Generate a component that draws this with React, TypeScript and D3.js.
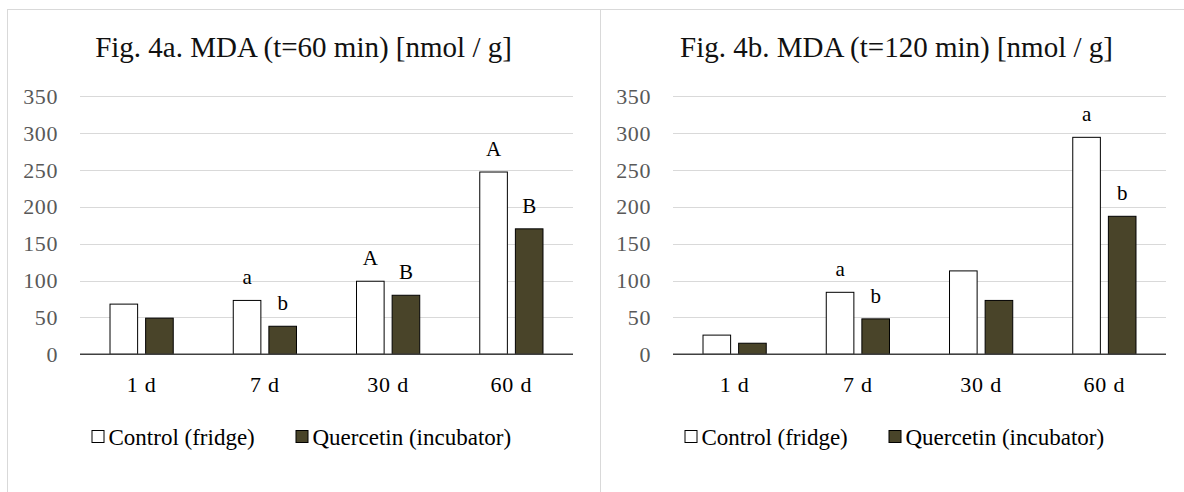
import * as d3 from "d3";

const categories = ["1 d", "7 d", "30 d", "60 d"];
const seriesNames = ["Control (fridge)", "Quercetin (incubator)"];
const yTicks = [0, 50, 100, 150, 200, 250, 300, 350];

const titleA = "Fig. 4a. MDA (t=60 min) [nmol / g]";
const controlA = [68, 73, 99, 247];
const quercetinA = [49, 38, 80, 170];
const lettersControlA = ["", "a", "A", "A"];
const lettersQuercetinA = ["", "b", "B", "B"];

const titleB = "Fig. 4b. MDA (t=120 min) [nmol / g]";
const controlB = [26, 84, 113, 294];
const quercetinB = [15, 48, 73, 187];
const lettersControlB = ["", "a", "", "a"];
const lettersQuercetinB = ["", "b", "", "b"];

const FONT = "'Liberation Serif', 'Times New Roman', serif";
const fills = ["#ffffff", "#494429"];

function Panel({ left, width, title, control, quercetin, lettersC, lettersQ }) {
    const plotLeft = left + 73;
    const plotRight = left + width - 27;
    const cx = left + width / 2;
    const x0 = d3.scaleBand(categories, [plotLeft, plotRight]).paddingInner(0.487).paddingOuter(0.2435);
    const x1 = d3.scaleBand([0, 1], [0, x0.bandwidth()]).paddingInner(0.225);
    const y = d3.scaleLinear([0, 350], [354.3, 96]);
    const series = [control, quercetin];
    const letters = [lettersC, lettersQ];

    return (
        <g>
            <rect x={left + 0.5} y={9.5} width={width} height={520} fill="#fff" stroke="#d9d9d9" />
            <text x={cx} y={57} textAnchor="middle" fontSize={29} fontFamily={FONT} fill="#111">{title}</text>
            {yTicks.map((t) => (
                <g key={t}>
                    {t > 0 && <line x1={plotLeft} x2={plotRight} y1={Math.round(y(t)) + 0.5} y2={Math.round(y(t)) + 0.5} stroke="#d9d9d9" />}
                    <text x={plotLeft - 22} y={y(t)} dy="0.35em" textAnchor="end" fontSize={22} letterSpacing={0.6} fontFamily={FONT} fill="#595959">{t}</text>
                </g>
            ))}
            {categories.map((c, i) => (
                <g key={c}>
                    {series.map((s, k) => {
                        const bx = x0(c) + x1(k);
                        return (
                            <g key={k}>
                                <rect x={bx} y={y(s[i])} width={x1.bandwidth()} height={y(0) - y(s[i])} fill={fills[k]} stroke="#000" strokeWidth={1} />
                                {letters[k][i] && (
                                    <text x={bx + x1.bandwidth() / 2} y={y(s[i]) - 16} textAnchor="middle" fontSize={21} fontFamily={FONT} fill="#000">{letters[k][i]}</text>
                                )}
                            </g>
                        );
                    })}
                    <text x={x0(c) + x0.bandwidth() / 2} y={392} textAnchor="middle" fontSize={22} letterSpacing={0.8} fontFamily={FONT} fill="#000">{c}</text>
                </g>
            ))}
            <line x1={plotLeft} x2={plotRight} y1={y(0)} y2={y(0)} stroke="#404040" strokeWidth={1.5} />
            {seriesNames.map((n, k) => {
                const lx = cx + (k === 0 ? -212 : -8);
                return (
                    <g key={n}>
                        <rect x={lx + 0.5} y={430.5} width={12} height={12} fill={fills[k]} stroke="#000" />
                        <text x={lx + 17} y={445} fontSize={23} fontFamily={FONT} fill="#000">{n}</text>
                    </g>
                );
            })}
        </g>
    );
}

export default function App() {
    return (
        <svg width={1184} height={492} style={{ position: "absolute", left: 0, top: 0, background: "#fff" }}>
            <Panel left={7} width={593} title={titleA} control={controlA} quercetin={quercetinA} lettersC={lettersControlA} lettersQ={lettersQuercetinA} />
            <Panel left={600} width={593} title={titleB} control={controlB} quercetin={quercetinB} lettersC={lettersControlB} lettersQ={lettersQuercetinB} />
        </svg>
    );
}
